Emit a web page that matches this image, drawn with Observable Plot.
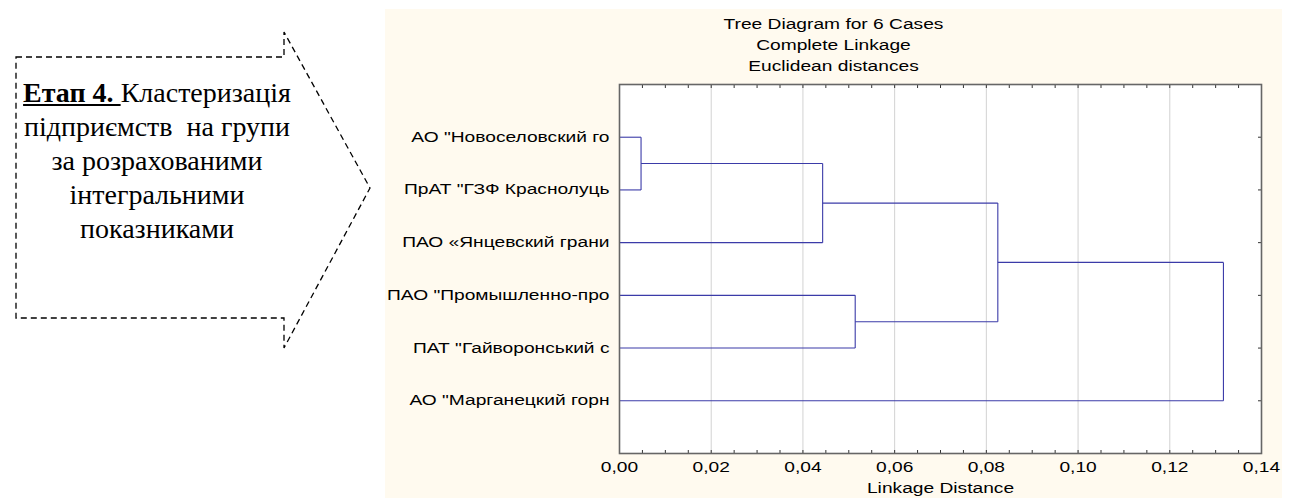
<!DOCTYPE html>
<html>
<head>
<meta charset="utf-8">
<script src="https://cdn.jsdelivr.net/npm/d3@7"></script>
<script src="https://cdn.jsdelivr.net/npm/@observablehq/plot@0.6"></script>
<style>
  html, body { margin: 0; padding: 0; background: white; }
  #wrap { position: relative; width: 1291px; height: 498px; overflow: hidden; background: white; }
  #cream { position: absolute; left: 385px; top: 9px; width: 897px; height: 489px; background: #fffaef; }
  #chart { position: absolute; left: 0; top: 0; }
  #title { position: absolute; left: 385px; top: 14px; width: 897px; text-align: center;
           font-family: "Liberation Sans", Arial, sans-serif; font-size: 14px; line-height: 21px; color: #000; }
  #title div { transform: scaleX(1.37); transform-origin: 50% 50%; }
  #arrow { position: absolute; left: 0; top: 0; }
  #stage { position: absolute; left: 7px; top: 76px; width: 300px; text-align: center;
           font-family: "Liberation Serif", "Times New Roman", serif; font-size: 28px; line-height: 34px; color: #000; }
  #stage div { white-space: pre; }
</style>
</head>
<body>
<div id="wrap">
  <div id="cream"></div>
  <div id="chart"></div>
  <div id="title"></div>
  <svg id="arrow" width="400" height="360">
    <polygon points="16,57 284,57 284,32 370,188 284,348 284,318 16,318"
      fill="none" stroke="#000" stroke-width="1.3" stroke-dasharray="6,4"/>
  </svg>
  <div id="stage">
    <div><u><b>Етап 4.&nbsp;</b></u>Кластеризація</div>
    <div>підприємств  на групи</div>
    <div>за розрахованими</div>
    <div>інтегральними</div>
    <div>показниками</div>
  </div>
</div>
<script>
// ---- data ----
const titleLines = ["Tree Diagram for 6 Cases", "Complete Linkage", "Euclidean distances"];
const xLabel = "Linkage Distance";
const labels = [
  'АО "Новоселовский го',
  'ПрАТ "ГЗФ Краснолуць',
  'ПАО «Янцевский грани',
  'ПАО "Промышленно-про',
  'ПАТ "Гайворонський с',
  'АО "Марганецкий горн'
];
// linkage: nodes 0..5 are leaves, merges create nodes 6..10
const mergeA = [0, 6, 3, 7, 9];
const mergeB = [1, 2, 4, 8, 5];
const mergeDist = [0.0047, 0.0443, 0.0514, 0.0825, 0.1317];
const majorTicks = [0, 0.02, 0.04, 0.06, 0.08, 0.10, 0.12, 0.14];
const gridTicks = [0.02, 0.04, 0.06, 0.08, 0.10, 0.12];
const minorTicks = d3.range(0, 29).map(i => +(i * 0.005).toFixed(3));
const rowTicks = [1, 2, 3, 4, 5, 6];

// ---- build dendrogram segments ----
const nodes = labels.map((l, i) => ({x: 0, y: i + 1}));
const links = [];
mergeDist.forEach((h, k) => {
  const a = nodes[mergeA[k]], b = nodes[mergeB[k]];
  links.push({x1: a.x, y1: a.y, x2: h, y2: a.y});
  links.push({x1: b.x, y1: b.y, x2: h, y2: b.y});
  links.push({x1: h, y1: a.y, x2: h, y2: b.y});
  nodes.push({x: h, y: (a.y + b.y) / 2});
});

const fmt = d => d.toFixed(2).replace(".", ",");
const lineColor = "#3b3ba8";
const frameColor = "#666";

const plot = Plot.plot({
  width: 1291,
  height: 498,
  marginLeft: 619,
  marginRight: 30,
  marginTop: 84,
  marginBottom: 45,
  style: {background: "transparent", fontFamily: "Liberation Sans, Arial, sans-serif", fontSize: "14px", color: "#000"},
  x: {domain: [0, 0.14]},
  y: {domain: [0, 7], reverse: true},
  marks: [
    Plot.frame({fill: "white", stroke: null}),
    Plot.ruleX(gridTicks, {stroke: "#d2d2d2", strokeWidth: 1}),
    Plot.link(links, {x1: "x1", y1: "y1", x2: "x2", y2: "y2", stroke: lineColor, strokeWidth: 1.1}),
    Plot.axisX({ticks: minorTicks, anchor: "bottom", tickSize: 3, dy: -3, fill: "none", stroke: "#333", label: null}),
    Plot.axisX({ticks: minorTicks, anchor: "top", tickSize: 3, dy: 3, fill: "none", stroke: "#333", label: null}),
    Plot.axisX({ticks: majorTicks, anchor: "bottom", tickSize: 0, tickPadding: 9, tickFormat: fmt, label: null}),
    Plot.axisY({ticks: rowTicks, anchor: "right", tickSize: 4, dx: -4, fill: "none", stroke: "#333", label: null}),
    Plot.axisY({ticks: rowTicks, anchor: "left", tickSize: 0, tickPadding: 10, tickFormat: i => labels[i - 1], label: null}),
    Plot.text([xLabel], {text: d => d, frameAnchor: "bottom", dy: 39, fontSize: 14}),
    Plot.frame({stroke: frameColor, strokeWidth: 1.6})
  ]
});
document.getElementById("chart").appendChild(plot);

// the reference's texts are horizontally stretched
plot.querySelectorAll("text").forEach(t => {
  const L = t.getComputedTextLength();
  if (L > 0) {
    t.setAttribute("textLength", (L * 1.37).toFixed(1));
    t.setAttribute("lengthAdjust", "spacingAndGlyphs");
  }
});

const title = document.getElementById("title");
titleLines.forEach(s => {
  const d = document.createElement("div");
  d.textContent = s;
  title.appendChild(d);
});
</script>
</body>
</html>
